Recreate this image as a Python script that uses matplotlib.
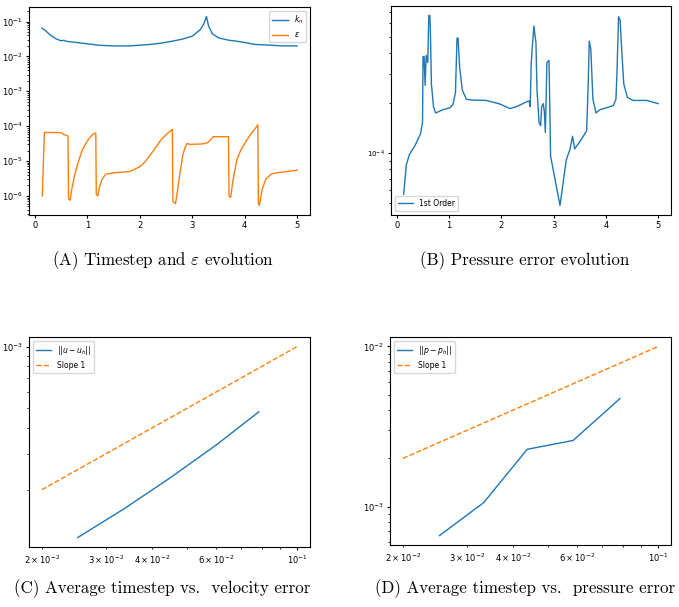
import matplotlib
matplotlib.use("Agg")
from matplotlib import pyplot as plt

# (A) timestep k_n and epsilon vs time
tK = [0.13, 0.2, 0.3, 0.4, 0.5, 0.55, 0.6, 0.8, 1.0, 1.2, 1.5, 1.8, 2.0, 2.2, 2.4, 2.6, 2.8,
      3.0, 3.15, 3.22, 3.27, 3.31, 3.38, 3.5, 3.7, 3.8, 4.0, 4.2, 4.5, 4.7, 5.0]
kn = [0.065, 0.055, 0.040, 0.032, 0.028, 0.029, 0.027, 0.025, 0.023, 0.021, 0.020, 0.020,
      0.021, 0.022, 0.024, 0.027, 0.031, 0.038, 0.058, 0.085, 0.14, 0.075, 0.045, 0.034,
      0.029, 0.028, 0.025, 0.022, 0.021, 0.020, 0.020]

tE = [0.14, 0.18, 0.3, 0.5, 0.55, 0.63, 0.64, 0.67, 0.7, 0.75, 0.8, 0.85, 0.9, 0.95, 1.0, 1.05,
      1.1, 1.16, 1.17, 1.2, 1.23, 1.28, 1.35, 1.5, 1.8, 1.9, 2.0, 2.1, 2.2, 2.3, 2.4, 2.5, 2.6,
      2.62, 2.63, 2.68, 2.72, 2.76, 2.82, 2.86, 2.9, 2.95, 3.2, 3.3, 3.4, 3.69, 3.7, 3.73,
      3.78, 3.85, 3.92, 4.0, 4.1, 4.2, 4.25, 4.26, 4.28, 4.33, 4.4, 4.5, 4.6, 4.8, 5.0]
eps = [1.0e-6, 6.6e-5, 6.6e-5, 6.5e-5, 5.8e-5, 5.2e-5, 8.0e-7, 7.5e-7, 1.5e-6, 3.5e-6,
       6.9e-6, 1.2e-5, 2.0e-5, 2.8e-5, 3.8e-5, 4.8e-5, 5.8e-5, 6.4e-5, 1.1e-6, 1.0e-6,
       1.8e-6, 3.0e-6, 4.2e-6, 4.6e-6, 5.0e-6, 5.8e-6, 6.9e-6, 9.5e-6, 1.5e-5, 2.4e-5,
       4.0e-5, 5.7e-5, 7.7e-5, 8.0e-5, 7.0e-7, 6.0e-7, 1.5e-6, 4.0e-6, 1.5e-5, 2.4e-5,
       3.2e-5, 3.0e-5, 3.1e-5, 3.4e-5, 5.0e-5, 5.0e-5, 1.0e-6, 9.0e-7, 3.0e-6, 1.1e-5,
       2.0e-5, 3.2e-5, 5.5e-5, 8.6e-5, 1.1e-4, 6.0e-7, 5.3e-7, 1.5e-6, 3.0e-6, 4.2e-6,
       4.6e-6, 5.0e-6, 5.5e-6]

# (B) pressure error vs time
tP = [0.13, 0.18, 0.24, 0.34, 0.45, 0.49, 0.50, 0.52, 0.54, 0.56, 0.59, 0.61, 0.63, 0.64,
      0.66, 0.70, 0.74, 0.88, 1.01, 1.07, 1.12, 1.15, 1.17, 1.20, 1.25, 1.33, 1.46, 1.71,
      1.97, 2.16, 2.29, 2.51, 2.53, 2.55, 2.57, 2.62, 2.66, 2.68, 2.72, 2.75, 2.77, 2.80,
      2.82, 2.84, 2.87, 2.91, 2.94, 3.12, 3.24, 3.31, 3.36, 3.40, 3.50, 3.63, 3.66, 3.68,
      3.71, 3.75, 3.81, 3.88, 4.01, 4.14, 4.19, 4.21, 4.24, 4.27, 4.30, 4.34, 4.41, 4.52,
      4.78, 5.0]
pErr = [5.66e-5, 8.5e-5, 9.8e-5, 1.10e-4, 1.30e-4, 1.52e-4, 3.8e-4, 3.8e-4, 2.55e-4,
        3.86e-4, 3.5e-4, 6.7e-4, 6.7e-4, 5.5e-4, 2.6e-4, 1.9e-4, 1.74e-4, 1.82e-4, 1.87e-4,
        1.95e-4, 2.3e-4, 4.9e-4, 4.9e-4, 3.3e-4, 2.4e-4, 2.1e-4, 2.08e-4, 2.07e-4, 1.97e-4,
        1.85e-4, 1.9e-4, 2.05e-4, 2.05e-4, 1.9e-4, 3.5e-4, 5.8e-4, 4.6e-4, 2.4e-4, 1.52e-4,
        1.46e-4, 1.9e-4, 1.98e-4, 1.78e-4, 1.33e-4, 3.5e-4, 3.6e-4, 9.6e-5, 4.84e-5, 9.1e-5,
        1.05e-4, 1.26e-4, 1.06e-4, 1.17e-4, 1.36e-4, 2.6e-4, 4.7e-4, 4.2e-4, 2.1e-4, 1.74e-4,
        1.82e-4, 1.87e-4, 1.93e-4, 2.1e-4, 3.0e-4, 6.6e-4, 6.3e-4, 4.2e-4, 2.6e-4, 2.16e-4,
        2.07e-4, 2.07e-4, 1.98e-4]

# (C), (D) convergence
dtU = [0.0251, 0.0335, 0.0448, 0.0602, 0.0785]
uErr = [1.17e-4, 1.61e-4, 2.28e-4, 3.32e-4, 4.80e-4]
dtP = [0.0252, 0.0333, 0.0438, 0.0585, 0.0786]
pConv = [6.6e-4, 1.06e-3, 2.28e-3, 2.59e-3, 4.73e-3]
slopeX = [0.02, 0.1]
slopeU = [2e-4, 1e-3]
slopeP = [2e-3, 1e-2]

captions = ["(A) Timestep and $\\varepsilon$ evolution", "(B) Pressure error evolution",
            "(C) Average timestep vs.  velocity error", "(D) Average timestep vs.  pressure error"]

plt.rcParams['font.size'] = 6
plt.rcParams['lines.linewidth'] = 1.0
plt.rcParams['axes.linewidth'] = 0.8
plt.rcParams['xtick.major.size'] = 2.5
plt.rcParams['ytick.major.size'] = 2.5
plt.rcParams['xtick.minor.size'] = 1.5
plt.rcParams['ytick.minor.size'] = 1.5
plt.rcParams['xtick.major.pad'] = 2
plt.rcParams['ytick.major.pad'] = 2

fig = plt.figure(figsize=(6.79, 6.07), dpi=100)
axA = fig.add_axes([0.0427, 0.6458, 0.4138, 0.3427])
axB = fig.add_axes([0.5758, 0.6458, 0.4124, 0.3443])
axC = fig.add_axes([0.0427, 0.0988, 0.4138, 0.3460])
axD = fig.add_axes([0.5744, 0.1021, 0.4138, 0.3427])

axA.semilogy(tK, kn, label='$k_n$')
axA.semilogy(tE, eps, label='$\\varepsilon$')
axA.legend(loc='upper right', fontsize=5.5)

axB.semilogy(tP, pErr, label='1st Order')
axB.legend(loc='lower left', fontsize=5.5)
axB.tick_params(axis='y', labelsize=5)

axC.loglog(dtU, uErr, label='$||u - u_h||$')
axC.loglog(slopeX, slopeU, '--', label='Slope 1')
axC.legend(loc='upper left', fontsize=5.5)

axD.loglog(dtP, pConv, label='$||p - p_h||$')
axD.loglog(slopeX, slopeP, '--', label='Slope 1')
axD.legend(loc='upper left', fontsize=5.5)

capPos = [(163, 261), (525, 261), (162, 589), (525, 589)]
for text, (px, py) in zip(captions, capPos):
    fig.text(px / 679, 1 - py / 607, text, ha='center', va='center', fontsize=12.2,
             family='cmr10', math_fontfamily='cm')

fig.savefig('out.png', dpi=100)
